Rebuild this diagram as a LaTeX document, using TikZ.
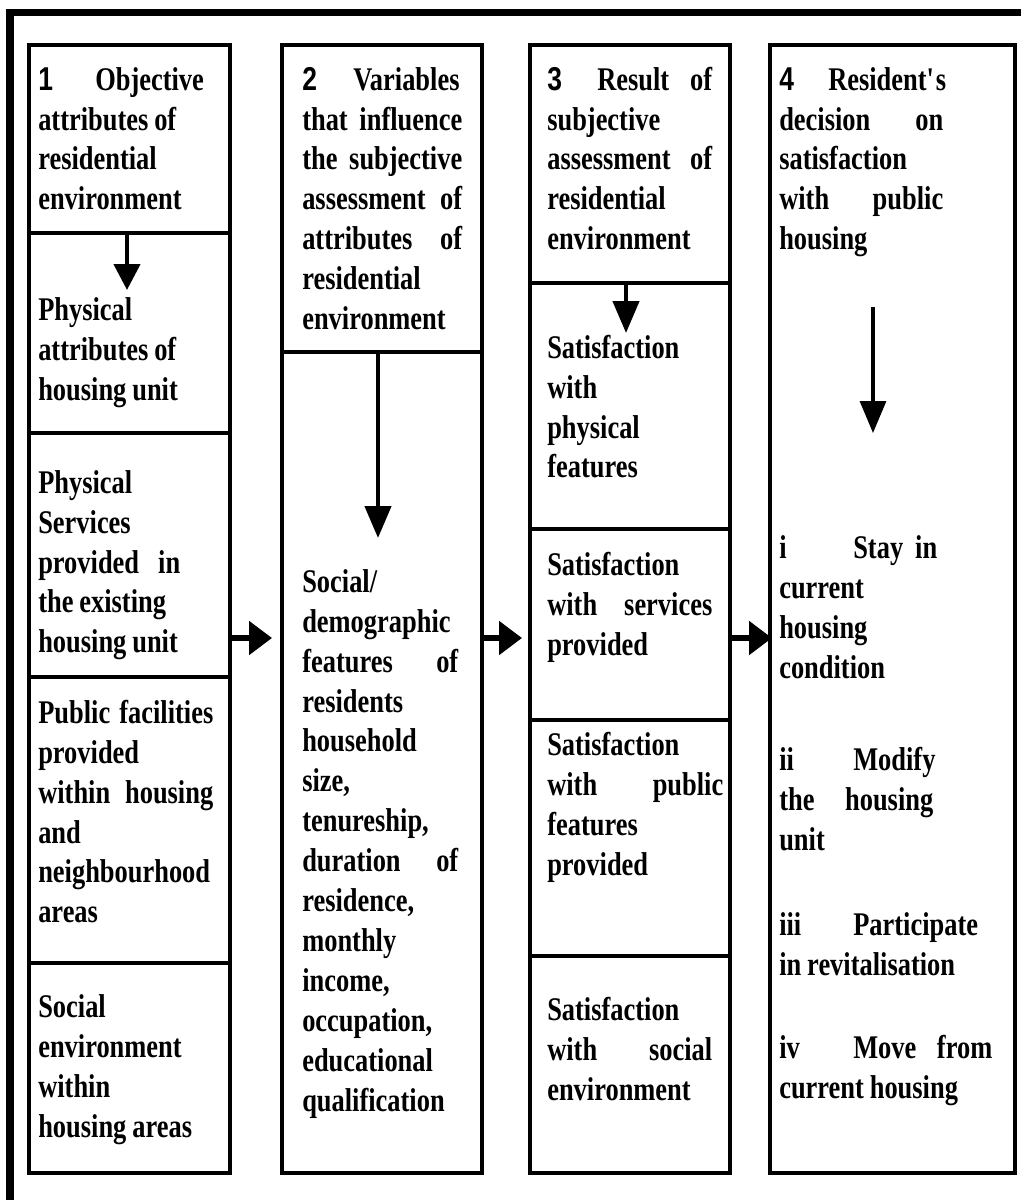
\documentclass[tikz,border=0pt]{standalone}
\usepackage{fontspec}
\setmainfont{Liberation Serif}[FakeStretch=0.8]
\newfontfamily\numfont{Liberation Sans}[FakeStretch=0.8]
\usetikzlibrary{arrows.meta,fit}

\newcommand{\lead}[2]{\makebox[#1][l]{#2}}
\newcommand{\tightspace}{\spaceskip=4.2pt plus 2pt minus 1pt\relax}

\begin{document}
\begin{tikzpicture}[x=0.25mm,y=-0.25mm,font=\bfseries\fontsize{23.5}{28.45}\selectfont]
  %----- styles
  \tikzset{
    cell/.style  ={draw,line width=1mm,inner sep=0pt},
    txt/.style   ={anchor=base west,inner sep=0pt,align=left,text width=48mm,
                   execute at begin node=\tightspace},
    arrow/.style ={-{Triangle[length=8mm,width=6.5mm]},line width=1.1mm},
    harrow/.style={-{Triangle[length=5.75mm,width=8.25mm]},line width=1.3mm},
    frame/.style ={line width=1.75mm}
  }
  \useasboundingbox (0,0) rectangle (1021,1200);

  %----- outer frame (cut at right and bottom)
  \draw[frame] (10,1200) -- (10,12) -- (1021,12);

  %==================== COLUMN LAYOUT ====================
  % x of the cell borders
  \def\xA{29}  \def\xB{230}   % column 1
  \def\xC{282} \def\xD{482}   % column 2
  \def\xE{530} \def\xF{730}   % column 3
  \def\xG{770} \def\xH{1015}  % column 4
  \def\yT{45}  \def\yB{1173}

  %----- cells
  % column 1: objective attributes
  \node[cell,fit={(\xA,\yT) (\xB,233)}]  (obj)  {};
  \node[cell,fit={(\xA,233) (\xB,433)}]  (phys) {};
  \node[cell,fit={(\xA,433) (\xB,677)}]  (serv) {};
  \node[cell,fit={(\xA,677) (\xB,963)}]  (pub)  {};
  \node[cell,fit={(\xA,963) (\xB,\yB)}]  (soc)  {};
  % column 2: variables
  \node[cell,fit={(\xC,\yT) (\xD,352)}]  (var)  {};
  \node[cell,fit={(\xC,352) (\xD,\yB)}]  (demo) {};
  % column 3: result of assessment
  \node[cell,fit={(\xE,\yT) (\xF,283)}]  (res)   {};
  \node[cell,fit={(\xE,283) (\xF,529)}]  (sphys) {};
  \node[cell,fit={(\xE,529) (\xF,720)}]  (sserv) {};
  \node[cell,fit={(\xE,720) (\xF,956)}]  (spub)  {};
  \node[cell,fit={(\xE,956) (\xF,\yB)}]  (ssoc)  {};
  % column 4: decision
  \node[cell,fit={(\xG,\yT) (\xH,\yB)}]  (dec)   {};

  %----- texts
  % column 1
  \node[txt,text width=41mm] (tobj) at (38,90)
    {\lead{14.25mm}{\numfont 1}Objective\\attributes of\\residential\\environment};
  \node[txt] (tphys) at (38,320) {Physical\\attributes of\\housing unit};
  \node[txt] (tserv) at (38,493)
    {Physical\\Services\\\makebox[35.5mm][s]{provided\hfill in}\\the existing\\housing unit};
  \node[txt,text width=43.75mm] (tpub) at (38,723)
    {Public\hfill facilities\\provided\\within\hfill housing\\and\\neighbourhood\\areas};
  \node[txt] (tsoc) at (38,1017) {Social\\environment\\within\\housing areas};

  % column 2
  \node[txt,text width=40mm] (tvar) at (302,90)
    {\lead{12.75mm}{\numfont 2}Variables\\that\hfill influence\\the\hfill subjective\\
     assessment\hfill of\\attributes\hfill of\\residential\\environment};
  \node[txt,text width=39mm] (tdemo) at (302,592)
    {Social/\\demographic\\features\hfill of\\residents\\household\\size,\\tenureship,\\
     duration\hfill of\\residence,\\monthly\\income,\\occupation,\\educational\\qualification};

  % column 3
  \node[txt,text width=41.25mm] (tres) at (547,90)
    {\lead{12.5mm}{\numfont 3}Result\hfill of\\subjective\\assessment\hfill of\\residential\\environment};
  \node[txt] (tsphys) at (547,358) {Satisfaction\\with\\physical\\features};
  \node[txt,text width=41.25mm] (tsserv) at (547,575)
    {Satisfaction\\with\hfill services\\provided};
  \node[txt,text width=44mm] (tspub) at (547,755)
    {Satisfaction\\with\hfill public\\features\\provided};
  \node[txt,text width=41.25mm] (tssoc) at (547,1020)
    {Satisfaction\\with\hfill social\\environment};

  % column 4
  \node[txt,text width=41mm] (tdec) at (779,90)
    {\lead{12.25mm}{\numfont 4}Resident\textquotesingle s\\decision\hfill on\\satisfaction\\with\hfill public\\housing};
  \node[txt,text width=39.5mm] (ti) at (779,558)
    {\lead{18.5mm}{i}Stay\hfill in\\current\\housing\\condition};
  \node[txt,text width=38.5mm] (tii) at (779,770)
    {\lead{18.5mm}{ii}Modify\\the\hfill housing\\unit};
  \node[txt,text width=55mm] (tiii) at (779,935)
    {\lead{18.5mm}{iii}Participate\\in revitalisation};
  \node[txt,text width=53.25mm] (tiv) at (779,1058)
    {\lead{18.5mm}{iv}Move\hfill from\\current housing};

  %----- connections
  % inside the columns
  \coordinate (objtip) at (127,290);
  \draw[arrow,-{Triangle[length=6.5mm,width=6.5mm]}] (obj.south -| objtip) -- (objtip);
  \coordinate (vartip) at (378,538);
  \draw[arrow] (var.south -| vartip) -- (vartip);
  \coordinate (restip) at (626,333);
  \draw[arrow] (res.south -| restip) -- (restip);
  \coordinate (dectop) at (873,307);
  \coordinate (dectip) at (873,433);
  \draw[arrow,line width=0.8mm] (dectop) -- (dectip);

  % between the columns
  \coordinate (h1) at (272,638);
  \coordinate (h2) at (522,638);
  \coordinate (h3) at (772,638);
  \draw[harrow] (serv.east |- h1)  -- (h1);
  \draw[harrow] (demo.east |- h2)  -- (h2);
  \draw[harrow] (sserv.east |- h3) -- (h3);

\end{tikzpicture}
\end{document}
